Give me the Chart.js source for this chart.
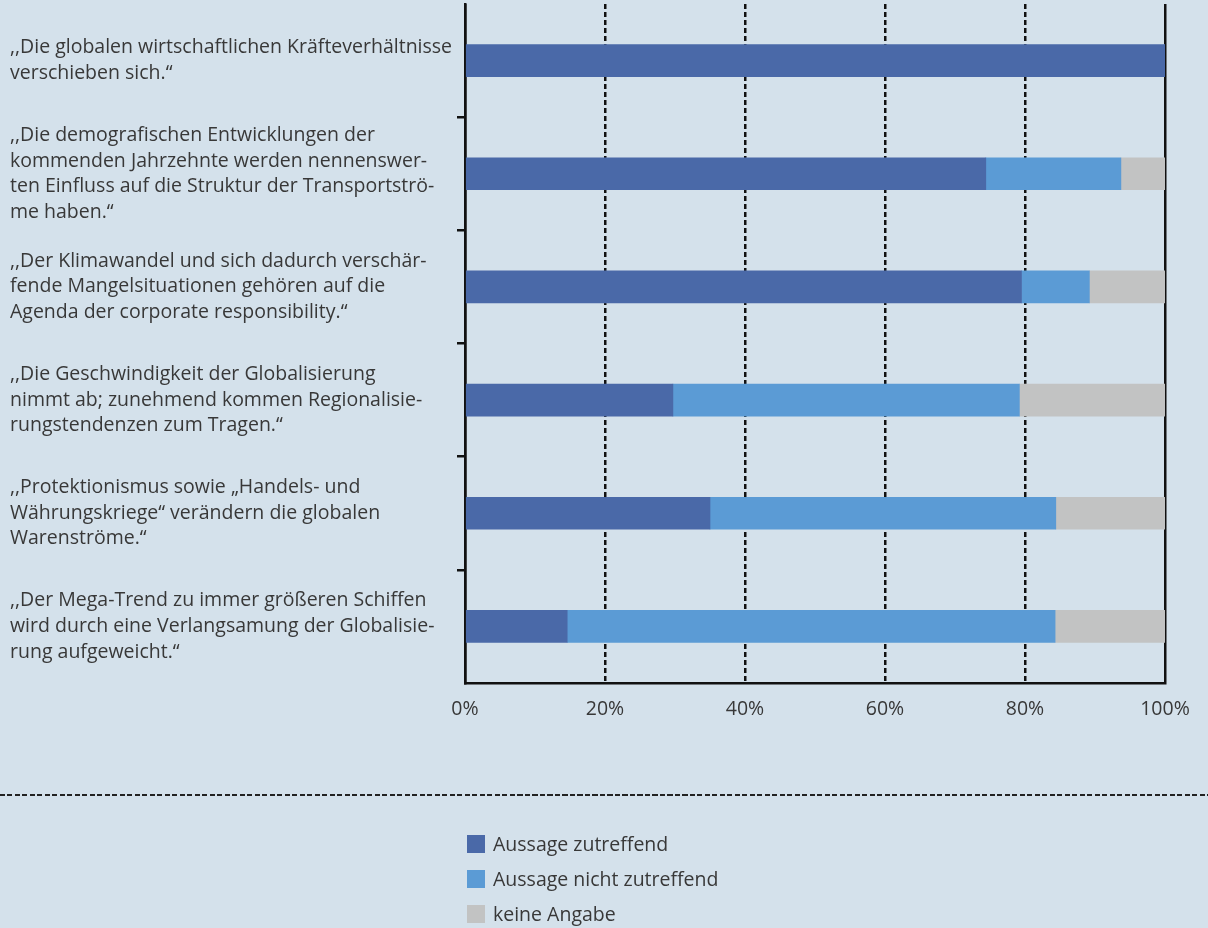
<!DOCTYPE html>
<html lang="de">
<head>
<meta charset="utf-8">
<title>Aussagen zur Globalisierung</title>
<script src="https://cdn.jsdelivr.net/npm/chart.js@4/dist/chart.umd.min.js"></script>
<style>
  html, body { margin: 0; padding: 0; background: #d4e1eb; }
  #wrap { position: relative; width: 1208px; height: 928px; font-family: 'Open Sans', sans-serif; color: #383838; }
  #chart { position: absolute; left: 0; top: 0; }
  #sep {
    position: absolute; left: 0; top: 794px; width: 1208px; height: 2px;
    background: repeating-linear-gradient(to right, #222 0 5px, transparent 5px 7.5px);
  }
  #legend { position: absolute; left: 467px; top: 826px; margin: 0; padding: 0; list-style: none; }
  #legend li { display: flex; align-items: center; height: 35px; font-size: 19.5px; }
  #legend .box { width: 18px; height: 18px; margin-right: 8px; }
</style>
</head>
<body>
<div id="wrap">
  <canvas id="chart" width="1208" height="928"></canvas>
  <div id="sep"></div>
  <ul id="legend"></ul>
</div>
<script>
const statements = [
  [',,Die globalen wirtschaftlichen Kräfteverhältnisse', 'verschieben sich.\u201C'],
  [',,Die demografischen Entwicklungen der', 'kommenden Jahrzehnte werden nennenswer-', 'ten Einfluss auf die Struktur der Transportströ-', 'me haben.\u201C'],
  [',,Der Klimawandel und sich dadurch verschär-', 'fende Mangelsituationen gehören auf die', 'Agenda der corporate responsibility.\u201C'],
  [',,Die Geschwindigkeit der Globalisierung', 'nimmt ab; zunehmend kommen Regionalisie-', 'rungstendenzen zum Tragen.\u201C'],
  [',,Protektionismus sowie \u201EHandels- und', 'Währungskriege\u201C verändern die globalen', 'Warenströme.\u201C'],
  [',,Der Mega-Trend zu immer größeren Schiffen', 'wird durch eine Verlangsamung der Globalisie-', 'rung aufgeweicht.\u201C']
]

// Anteile in Prozent
const zutreffend      = [100, 74.4, 79.5, 29.7, 35.0, 14.6]
const nichtZutreffend = [0, 19.3, 9.7, 49.5, 49.4, 69.7]
const keineAngabe     = [0, 6.3, 10.8, 20.8, 15.6, 15.7]

const xTicks = [0, 20, 40, 60, 80, 100]

const textColor = '#383838'
const font = { family: "'Open Sans', sans-serif", size: 19.5 }

// HTML-Legende aus den Datensätzen bauen
const htmlLegend = {
  id: 'htmlLegend',
  afterUpdate(chart) {
    const ul = document.getElementById('legend')
    ul.innerHTML = ''
    const items = chart.options.plugins.legend.labels.generateLabels(chart)
    items.forEach(item => {
      const li = document.createElement('li')
      const box = document.createElement('span')
      box.className = 'box'
      box.style.background = item.fillStyle
      li.appendChild(box)
      li.appendChild(document.createTextNode(item.text))
      ul.appendChild(li)
    })
  }
}

const ctx = document.getElementById('chart').getContext('2d')
// eslint-disable-next-line no-unused-vars
const chart = new Chart(ctx, {
  type: 'bar',
  data: {
    labels: statements,
    datasets: [
      { label: 'Aussage zutreffend', data: zutreffend, backgroundColor: '#4a69a8' },
      { label: 'Aussage nicht zutreffend', data: nichtZutreffend, backgroundColor: '#5b9bd5' },
      { label: 'keine Angabe', data: keineAngabe, backgroundColor: '#c2c3c3' }
    ]
  },
  options: {
    indexAxis: 'y',
    responsive: false,
    animation: false,
    layout: { padding: { left: 10, right: 43, top: 4, bottom: 205 } },
    datasets: { bar: { barThickness: 32, borderWidth: 0 } },
    plugins: {
      legend: { display: false },
      tooltip: { enabled: false }
    },
    scales: {
      x: {
        stacked: true,
        min: 0,
        max: 100,
        afterBuildTicks: axis => { axis.ticks = xTicks.map(v => ({ value: v })) },
        afterFit: axis => { axis.height = 40 },
        ticks: {
          color: textColor,
          font: font,
          padding: 15,
          callback: v => v + '%'
        },
        grid: {
          color: '#111',
          lineWidth: 2.5,
          drawTicks: false
        },
        border: {
          display: true,
          color: '#111',
          width: 2.5,
          dash: c => (c.tick && c.tick.value > 0 && c.tick.value < 100) ? [5, 3] : []
        }
      },
      y: {
        stacked: true,
        afterFit: axis => {
          axis.width = 455
          // mehrzeilige Labels sollen den Plotbereich nicht verschieben
          axis.paddingTop = 0
          axis.paddingBottom = 0
        },
        ticks: {
          color: textColor,
          font: Object.assign({ lineHeight: 1.31 }, font),
          crossAlign: 'far',
          padding: 6
        },
        grid: {
          drawOnChartArea: false,
          tickLength: 8,
          lineWidth: 2.5,
          color: c => c.index > 0 ? '#111' : 'transparent'
        },
        border: { display: true, color: '#111', width: 2.5 }
      }
    }
  },
  plugins: [htmlLegend]
})
</script>
</body>
</html>
